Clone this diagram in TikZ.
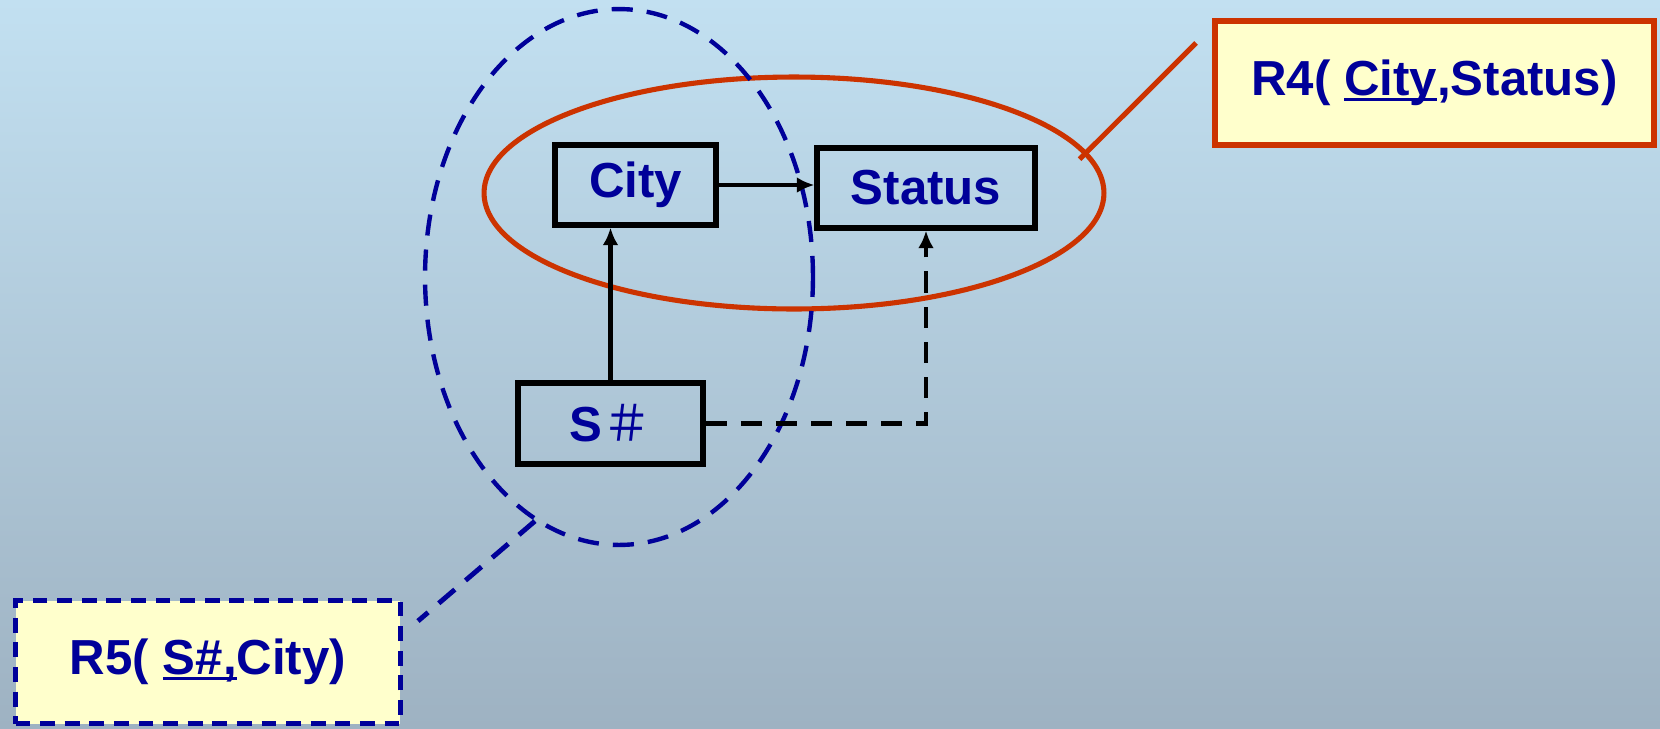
\documentclass[tikz,border=0pt]{standalone}
\usepackage{fontspec}
\setmainfont{Liberation Sans}
\newfontfamily\cjk{Noto Sans CJK SC}
\usepackage{xcolor}
\usepackage{tikz}
\usetikzlibrary{arrows.meta}
\usetikzlibrary{positioning,shapes.geometric,calc}
\definecolor{inkblue}{RGB}{0,0,153}
\definecolor{rustred}{RGB}{204,51,0}
\definecolor{notefill}{RGB}{255,255,204}
\definecolor{skytop}{RGB}{194,224,241}
\definecolor{skybot}{RGB}{158,178,194}
\newcommand{\keyline}[1]{\leavevmode\setbox0\hbox{#1}\rlap{\rule[-0.11em]{\wd0}{0.07em}}\box0}
\tikzset{
	>={Latex[length=10pt,width=9pt]},
	bigtext/.style = {
			text      = inkblue,
			font      = \fontsize{28}{33}\selectfont\bfseries,
			inner sep = 0pt,
		},
	attr/.style = {
			bigtext,
			draw       = black,
			line width = 3pt,
		},
	fd/.style = {draw=black, line width=2.8pt, ->},
	fdtrans/.style = {fd, dash pattern=on 12pt off 8pt},
	r4note/.style = {
			bigtext,
			draw       = rustred,
			fill       = notefill,
			line width = 3.6pt,
		},
	r5note/.style = {
			bigtext,
			draw         = inkblue,
			fill         = notefill,
			line width   = 3.2pt,
			dash pattern = on 8.5pt off 5.5pt,
		},
	ring/.style = {ellipse, inner sep=0pt},
}

\begin{document}
\begin{tikzpicture}[x=0.02cm, y=-0.02cm]
	\useasboundingbox (0,0) rectangle (1660,728);
	\shade[top color=skytop, bottom color=skybot] (0,0) rectangle (1660,728);

	\node[ring, draw=rustred, line width=2.9pt, minimum width=12.4cm, minimum height=4.64cm] (r4ring) at (794,193) {};
	\node[ring, draw=inkblue, line width=2.5pt, dash pattern=on 12pt off 8pt, minimum width=7.76cm, minimum height=10.72cm] (r5ring) at (619,277) {};

	\node[attr, minimum width=3.22cm, minimum height=1.6cm] (city) at (635.5,185) {City};
	\node[attr, minimum width=4.36cm, minimum height=1.6cm] (status) at (926,188) {Status};
	\node[attr, minimum width=3.7cm, minimum height=1.62cm] (sno) at (610.5,423.5) {S{\cjk\mdseries ＃}};

	\draw[fd] (city.east) -- (city.east -| status.west);
	\draw[fd] (sno.north) -- (sno.north |- city.south);
	\draw[fdtrans] (sno.east) -| (status.south);

	\node[r4note, minimum width=8.78cm, minimum height=2.48cm] (r4) at (1434.5,83) {R4( \keyline{City},Status)};
	\node[r5note, minimum width=7.7cm, minimum height=2.46cm] (r5) at (208,662) {R5( \keyline{S\#,}City)};

	\coordinate (r4tail) at (1196,43);
	\coordinate (r5tail) at (418,621);
	\draw[rustred, line width=2.9pt] ($(r4ring.8)!-6pt!(r4tail)$) -- (r4tail);
	\draw[inkblue, line width=2.8pt, dash pattern=on 12pt off 8pt] (r5ring.251) -- (r5tail);

\end{tikzpicture}
\end{document}
